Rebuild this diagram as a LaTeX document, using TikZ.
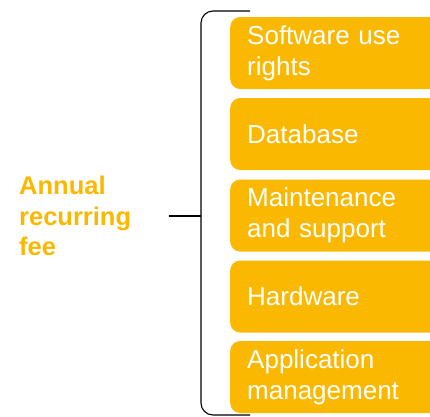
\documentclass[tikz,border=0pt]{standalone}
\usepackage{fontspec}
\setmainfont{Liberation Sans}
\usepackage{tikz}
\usetikzlibrary{positioning}

\definecolor{feeorange}{RGB}{250,184,0}

\tikzset{
	itembox/.style={fill=feeorange, rounded corners=10pt, anchor=west,
		minimum height=72pt, text width=190pt, inner xsep=17pt, align=left,
		text=white, font=\fontsize{26}{31}\selectfont},
	feelabel/.style={anchor=west, align=left, inner sep=0pt, text=feeorange,
		font=\fontsize{25.5}{30.5}\selectfont\bfseries}
}

\begin{document}
\begin{tikzpicture}[x=1pt,y=-1pt]

					\useasboundingbox (0,0) rectangle (430,416);
					\clip (0,0) rectangle (430,416);

					% brace round the five items
					\draw[line width=1.1pt, rounded corners=12pt] (250,11) -- (201,11) -- (201,415) -- (250,415);

					\node[itembox] (rights) at (230,53) {Software use\\rights};
					\node[itembox] (db) at (230,134) {Database};
					\node[itembox] (maint) at (230,215.5) {Maintenance\\and support};
					\node[itembox] (hw) at (230,296.5) {Hardware};
					\node[itembox] (appmgmt) at (230,377) {Application\\management};

					\node[feelabel] (fee) at (19,216) {Annual\\recurring\\fee};

					\coordinate (tick) at (169,216);
					\coordinate (brk) at (201,216);
					\draw[line width=1.1pt] (tick) -- (brk);
				\end{tikzpicture}
\end{document}
